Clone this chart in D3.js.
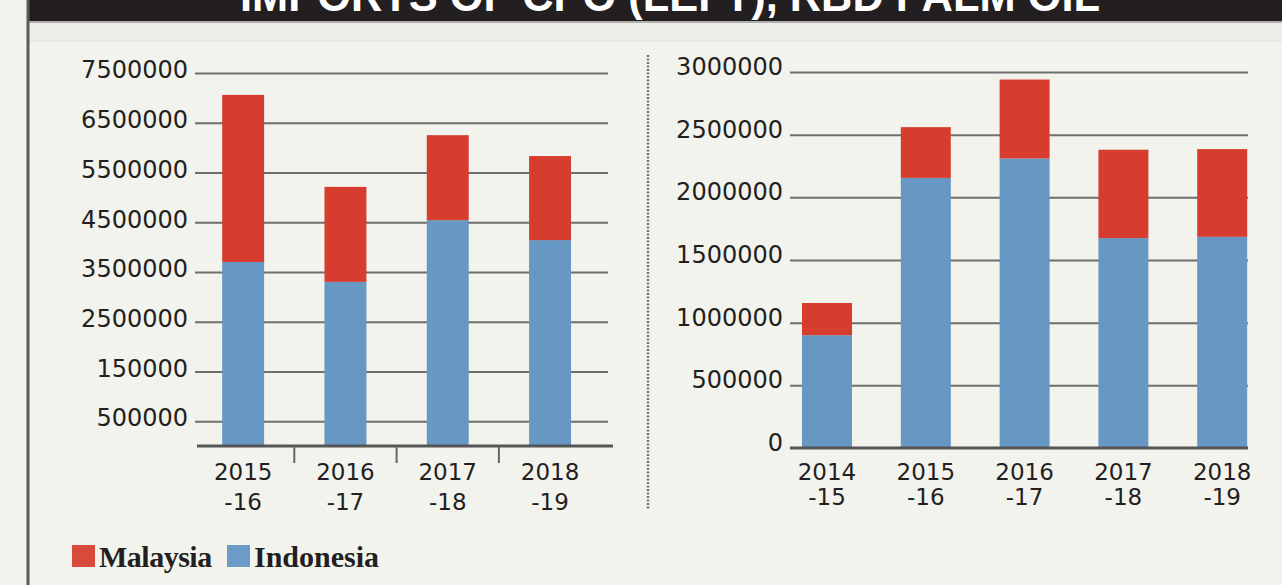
<!DOCTYPE html>
<html>
<head>
<meta charset="utf-8">
<script src="https://d3js.org/d3.v7.min.js"></script>
<style>
  body { margin: 0; background: #f3f3ee; }
  svg text { font-family: "DejaVu Sans", sans-serif; fill: #231f20; }
</style>
</head>
<body>
<script>
// left chart: imports of CPO
var cpoYears = ["2015|-16", "2016|-17", "2017|-18", "2018|-19"];
var cpoIndonesia = [3700000, 3300000, 4540000, 4140000];
var cpoMalaysia = [3360000, 1910000, 1710000, 1690000];
var cpoTicks = [500000, 1500000, 2500000, 3500000, 4500000, 5500000, 6500000, 7500000];
var cpoTickLabels = ["500000", "150000", "2500000", "3500000", "4500000", "5500000", "6500000", "7500000"];

// right chart: imports of RBD palm oil
var rbdYears = ["2014|-15", "2015|-16", "2016|-17", "2017|-18", "2018|-19"];
var rbdIndonesia = [900000, 2155000, 2310000, 1675000, 1685000];
var rbdMalaysia = [257000, 405000, 630000, 705000, 700000];
var rbdTicks = [0, 500000, 1000000, 1500000, 2000000, 2500000, 3000000];

var title = "IMPORTS OF CPO (LEFT), RBD PALM OIL";
var legendNames = ["Malaysia", "Indonesia"];

var red = "#d73d2e", blue = "#6797c3";

var W = 1282, H = 585;
var svg = d3.select("body").append("svg")
    .attr("width", W)
    .attr("height", H);

// frame
svg.append("rect").attr("x", 28).attr("y", 0).attr("width", W - 28).attr("height", 21).attr("fill", "#231e20");
svg.append("rect").attr("x", 28).attr("y", 22).attr("width", W - 28).attr("height", 19).attr("fill", "#eeeee9");
svg.append("line").attr("x1", 28).attr("x2", W).attr("y1", 22).attr("y2", 22).attr("stroke", "#9a9a96").attr("stroke-width", 1.5);
svg.append("line").attr("x1", 28).attr("x2", W).attr("y1", 41).attr("y2", 41).attr("stroke", "#e2e2dc").attr("stroke-width", 1);
svg.append("line").attr("x1", 28).attr("x2", 28).attr("y1", 0).attr("y2", H).attr("stroke", "#5a5a5a").attr("stroke-width", 3);

// title is cropped by the top edge, as in the source
svg.append("text")
    .attr("x", 240).attr("y", 11)
    .attr("textLength", 860)
    .attr("lengthAdjust", "spacingAndGlyphs")
    .style("font-family", "'Liberation Sans', sans-serif")
    .style("font-weight", "bold")
    .style("font-size", "44px")
    .style("fill", "#fff")
    .text(title);

// separator
svg.append("line").attr("x1", 648).attr("x2", 648).attr("y1", 55).attr("y2", 510)
    .attr("stroke", "#777").attr("stroke-width", 2.5).attr("stroke-dasharray", "2,1.5");

function drawChart(o) {
    var g = svg.append("g");
    var x = d3.scaleBand().domain(o.cats).range(o.xr).paddingInner(o.pad).paddingOuter(o.pad / 2);
    var y = d3.scaleLinear().domain([0, o.max]).range(o.yr);

    // grid + labels
    var ax = g.append("g")
        .attr("transform", "translate(" + o.gx[0] + ",0)")
        .call(d3.axisLeft(y).tickValues(o.ticks)
            .tickSize(-(o.gx[1] - o.gx[0]))
            .tickPadding(7)
            .tickFormat((d, i) => o.labels[i]));
    ax.select(".domain").remove();
    ax.selectAll(".tick line").attr("stroke", "#6e6e6c").attr("stroke-width", 2)
        .filter(d => d === 0).remove();
    ax.selectAll(".tick text")
        .attr("dy", o.dy)
        .style("font-size", "24px")
        .style("fill", "#231f20");

    // bars
    o.cats.forEach((c, i) => {
        var b = o.indo[i], t = o.indo[i] + o.mal[i];
        g.append("rect").attr("x", x(c)).attr("width", x.bandwidth())
            .attr("y", y(b)).attr("height", y(0) - y(b)).attr("fill", blue);
        g.append("rect").attr("x", x(c)).attr("width", x.bandwidth())
            .attr("y", y(t)).attr("height", y(b) - y(t)).attr("fill", red);
    });

    // baseline
    g.append("line").attr("x1", o.bx[0]).attr("x2", o.bx[1])
        .attr("y1", y(0)).attr("y2", y(0))
        .attr("stroke", "#555").attr("stroke-width", 3);

    if (o.sepTicks) {
        o.cats.slice(1).forEach(c => {
            var xx = x(c) - x.step() * o.pad / 2;
            g.append("line").attr("x1", xx).attr("x2", xx)
                .attr("y1", y(0)).attr("y2", y(0) + 17)
                .attr("stroke", "#666").attr("stroke-width", 2);
        });
    }

    // category labels
    o.cats.forEach(c => {
        var parts = c.split("|");
        var t = g.append("text")
            .attr("text-anchor", "middle")
            .style("font-size", "23px");
        t.append("tspan").attr("x", x(c) + x.bandwidth() / 2).attr("y", o.ly[0]).text(parts[0]);
        t.append("tspan").attr("x", x(c) + x.bandwidth() / 2).attr("y", o.ly[1]).text(parts[1]);
    });
}

drawChart({
    cats: cpoYears, indo: cpoIndonesia, mal: cpoMalaysia,
    ticks: cpoTicks, labels: cpoTickLabels, max: 7500000,
    xr: [192, 601.2], pad: 0.59, yr: [446, 73],
    gx: [195, 608], bx: [197, 613], dy: "0.2em",
    ly: [480, 510], sepTicks: true
});

drawChart({
    cats: rbdYears, indo: rbdIndonesia, mal: rbdMalaysia,
    ticks: rbdTicks, labels: rbdTicks.map(String), max: 3000000,
    xr: [777.6, 1271.6], pad: 0.494, yr: [448, 72],
    gx: [790, 1248], bx: [790, 1248], dy: "0.1em",
    ly: [480, 505], sepTicks: false
});

// legend
var lg = svg.append("g").attr("transform", "translate(72,545)");
var lx = [0, 155];
legendNames.forEach((n, i) => {
    lg.append("rect").attr("x", lx[i]).attr("y", 0).attr("width", 23).attr("height", 22)
        .attr("fill", i === 0 ? "#d84a3a" : "#6b9cc7");
    lg.append("text").attr("x", lx[i] + 27).attr("y", 22)
        .style("font-family", "'Liberation Serif', 'DejaVu Serif', serif")
        .style("font-weight", "bold")
        .style("font-size", "30px")
        .style("letter-spacing", i === 0 ? "-0.5px" : "0px")
        .text(n);
});
</script>
</body>
</html>
